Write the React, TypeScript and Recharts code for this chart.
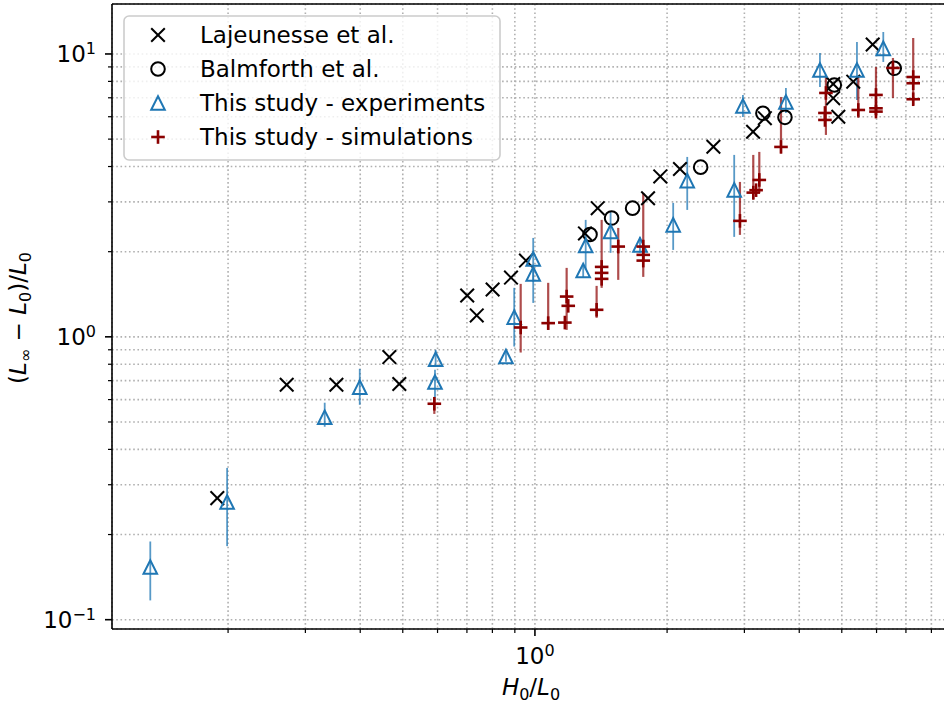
import { ScatterChart, Scatter, XAxis, YAxis, CartesianGrid, ErrorBar, ReferenceLine, Legend } from "recharts";

// axis ranges (log-log)
const X_MIN = 0.1088;
const X_MAX = 8.82;
const Y_MIN = 0.0927;
const Y_MAX = 15.02;

const xTicks = [0.2, 0.3, 0.4, 0.5, 0.6, 0.7, 0.8, 0.9, 1, 2, 3, 4, 5, 6, 7, 8];
const yTicks = [0.1, 0.2, 0.3, 0.4, 0.5, 0.6, 0.7, 0.8, 0.9, 1, 2, 3, 4, 5, 6, 7, 8, 9, 10];

// [H0/L0, (Linf-L0)/L0]
const lajeunesse: number[][] = [
  [0.189, 0.269], [0.272, 0.677], [0.353, 0.677], [0.466, 0.848], [0.491, 0.681],
  [0.701, 1.4], [0.737, 1.19], [0.801, 1.47], [0.882, 1.62], [0.954, 1.86],
  [1.3, 2.32], [1.39, 2.85], [1.81, 3.09], [1.93, 3.69], [2.14, 3.92],
  [2.55, 4.7], [3.14, 5.31], [3.34, 5.93], [4.78, 7.83], [4.78, 6.98],
  [4.91, 6.0], [5.31, 7.98], [5.88, 10.8],
];

const balmforth: number[][] = [
  [1.335, 2.3], [1.495, 2.63], [1.669, 2.85], [2.385, 3.98],
  [3.306, 6.17], [3.711, 5.97], [4.807, 7.77], [6.584, 8.9],
];

// [x, y, low, high]
const experiments: number[][] = [
  [0.133, 0.1535, 0.117, 0.189], [0.199, 0.2605, 0.182, 0.344], [0.332, 0.52, 0.481, 0.585],
  [0.399, 0.664, 0.575, 0.771], [0.594, 0.834, 0.79, 0.9], [0.592, 0.692, 0.609, 0.765],
  [0.859, 0.852, 0.816, 0.885], [0.897, 1.174, 0.924, 1.49], [0.991, 1.886, 1.318, 2.237],
  [0.991, 1.669, 1.564, 1.782], [1.288, 1.715, 1.616, 1.811], [1.305, 2.102, 1.725, 2.591],
  [1.487, 2.356, 1.981, 2.765], [1.735, 2.114, 1.981, 2.256], [2.065, 2.488, 2.029, 2.975],
  [2.223, 3.566, 2.81, 4.325], [2.844, 3.307, 2.256, 4.397], [2.977, 6.551, 5.99, 7.165],
  [3.73, 6.768, 6.186, 7.584], [4.459, 8.781, 7.645, 10.08], [5.414, 8.781, 6.878, 11.03],
  [6.216, 10.47, 9.37, 11.96],
];

// [x, y, low, high] - points without own bar have just [x, y]
const simulations: number[][] = [
  [0.59, 0.58, 0.534, 0.609], [0.928, 1.079, 0.88, 1.539], [1.072, 1.118, 1.058, 1.552],
  [1.181, 1.388, 1.058, 1.753], [1.191, 1.287], [1.17, 1.123],
  [1.382, 1.246, 1.167, 1.514], [1.419, 1.767, 1.49, 2.591], [1.419, 1.683], [1.419, 1.603],
  [1.548, 2.085, 1.59, 2.427], [1.765, 2.085, 1.629, 3.227], [1.765, 1.949], [1.765, 1.86],
  [2.931, 2.57, 2.293, 3.529], [3.143, 3.235, 3.049, 4.397], [3.244, 3.586, 3.227, 4.506],
  [3.19, 3.3], [3.635, 4.692, 4.469, 7.047],
  [4.601, 7.281, 5.173, 8.43], [4.577, 6.186], [4.577, 5.845],
  [5.452, 6.339, 5.94, 8.29], [5.982, 7.165, 5.99, 8.995], [5.982, 6.427], [5.982, 6.255],
  [6.539, 8.925, 6.99, 9.68], [7.272, 8.29, 6.6, 11.39], [7.272, 7.88], [7.272, 6.918],
];

const legendLabels = ["Lajeunesse et al.", "Balmforth et al.", "This study - experiments", "This study - simulations"];

const FONT = "'DejaVu Sans', sans-serif";
const BLUE = "#1f77b4";
const RED = "#8b0000";
const S = 6.8;

const toPoints = (rows: number[][]) =>
  rows.map((r) => {
    const lo = r.length > 2 ? r[2] : r[1];
    const hi = r.length > 3 ? r[3] : r[1];
    return { x: r[0], y: r[1], err: [r[1] - lo, hi - r[1]] };
  });

// works both on raw entries and on computed scatter points
const errOf = (d: any) => (d.payload ? d.payload.err : d.err);

function XMark({ cx, cy }: any) {
  return (
    <g stroke="#000" strokeWidth={2}>
      <line x1={cx - S} y1={cy - S} x2={cx + S} y2={cy + S} />
      <line x1={cx - S} y1={cy + S} x2={cx + S} y2={cy - S} />
    </g>
  );
}

function OMark({ cx, cy }: any) {
  return <circle cx={cx} cy={cy} r={S} fill="none" stroke="#000" strokeWidth={2} />;
}

function TriMark({ cx, cy }: any) {
  return (
    <polygon
      points={`${cx},${cy - S} ${cx - S},${cy + S} ${cx + S},${cy + S}`}
      fill="none"
      stroke={BLUE}
      strokeWidth={2}
    />
  );
}

function PlusMark({ cx, cy }: any) {
  return (
    <g stroke={RED} strokeWidth={2.6}>
      <line x1={cx - S} y1={cy} x2={cx + S} y2={cy} />
      <line x1={cx} y1={cy - S} x2={cx} y2={cy + S} />
    </g>
  );
}

const isDecade = (v: number) => Math.abs(Math.log10(v) - Math.round(Math.log10(v))) < 1e-6;
const expText = (v: number) => {
  const e = Math.round(Math.log10(v));
  return e < 0 ? `\u2212${-e}` : `${e}`;
};

function XTick({ x, y, payload }: any) {
  const major = isDecade(payload.value);
  return (
    <g>
      <line x1={x} x2={x} y1={y} y2={y + (major ? 7 : 4)} stroke="#000" strokeWidth={major ? 1.6 : 1.2} />
      {major && (
        <text x={x} y={y + 35} textAnchor="middle" fontSize={23} fontFamily={FONT} fill="#000">
          10
          <tspan dy={-8} fontSize={16}>{expText(payload.value)}</tspan>
        </text>
      )}
    </g>
  );
}

function YTick({ x, y, payload }: any) {
  const major = isDecade(payload.value);
  return (
    <g>
      <line x1={x - (major ? 7 : 4)} x2={x} y1={y} y2={y} stroke="#000" strokeWidth={major ? 1.6 : 1.2} />
      {major && (
        <text x={x - 16} y={y + 8.5} textAnchor="end" fontSize={23} fontFamily={FONT} fill="#000">
          10
          <tspan dy={-8} fontSize={16}>{expText(payload.value)}</tspan>
        </text>
      )}
    </g>
  );
}

function LegendBox() {
  const rows = [XMark, OMark, TriMark, PlusMark];
  return (
    <svg width={380} height={148}>
      <rect x={1} y={1} width={376} height={144} rx={5} fill="#fff" fillOpacity={0.8} stroke="#cccccc" strokeWidth={1.6} />
      {rows.map((M, i) => {
        const cy = 20 + i * 34;
        return (
          <g key={i}>
            <M cx={35} cy={cy} />
            <text x={77} y={cy + 8} fontSize={23} fontFamily={FONT} fill="#000">
              {legendLabels[i]}
            </text>
          </g>
        );
      })}
    </svg>
  );
}

export default function App() {
  return (
    <div style={{ position: "absolute", left: 0, top: 0, width: 944, height: 704, overflow: "hidden", background: "#fff" }}>
      <ScatterChart width={950} height={704} margin={{ top: 4, right: 0, bottom: 0, left: 0 }} style={{ fontFamily: FONT }}>
        <CartesianGrid stroke="#b0b0b0" strokeWidth={1.6} strokeDasharray="1.6 2.64" />
        <XAxis
          dataKey="x"
          type="number"
          scale="log"
          domain={[X_MIN, X_MAX]}
          allowDataOverflow
          ticks={xTicks}
          interval={0}
          height={75}
          tickSize={0}
          tickMargin={0}
          tickLine={false}
          tick={<XTick />}
          axisLine={{ stroke: "#000", strokeWidth: 1.6 }}
          label={{
            content: () => (
              <text x={531} y={695} textAnchor="middle" fontSize={23} fontFamily={FONT} fill="#000">
                <tspan fontStyle="italic">H</tspan>
                <tspan dy={5} fontSize={16}>0</tspan>
                <tspan dy={-5}>/</tspan>
                <tspan fontStyle="italic">L</tspan>
                <tspan dy={5} fontSize={16}>0</tspan>
              </text>
            ),
          }}
        />
        <YAxis
          dataKey="y"
          type="number"
          scale="log"
          domain={[Y_MIN, Y_MAX]}
          allowDataOverflow
          ticks={yTicks}
          interval={0}
          width={112}
          tickSize={0}
          tickMargin={0}
          tickLine={false}
          tick={<YTick />}
          axisLine={{ stroke: "#000", strokeWidth: 1.6 }}
          label={{
            content: () => (
              <text
                x={0}
                y={0}
                transform="translate(26,318) rotate(-90)"
                textAnchor="middle"
                fontSize={23}
                fontFamily={FONT}
                fill="#000"
              >
                (<tspan fontStyle="italic">L</tspan>
                <tspan dy={5} fontSize={16}>{"\u221e"}</tspan>
                <tspan dy={-5}>{" \u2212 "}</tspan>
                <tspan fontStyle="italic">L</tspan>
                <tspan dy={5} fontSize={16}>0</tspan>
                <tspan dy={-5}>)/</tspan>
                <tspan fontStyle="italic">L</tspan>
                <tspan dy={5} fontSize={16}>0</tspan>
              </text>
            ),
          }}
        />
        <ReferenceLine y={Y_MAX} stroke="#000" strokeWidth={1.6} ifOverflow="visible" />
        <ReferenceLine x={X_MAX} stroke="#000" strokeWidth={1.6} ifOverflow="visible" />
        <Scatter name={legendLabels[0]} data={toPoints(lajeunesse)} shape={(p: any) => <XMark cx={p.cx} cy={p.cy} />} isAnimationActive={false} />
        <Scatter name={legendLabels[1]} data={toPoints(balmforth)} shape={(p: any) => <OMark cx={p.cx} cy={p.cy} />} isAnimationActive={false} />
        <Scatter name={legendLabels[2]} data={toPoints(experiments)} shape={(p: any) => <TriMark cx={p.cx} cy={p.cy} />} isAnimationActive={false}>
          <ErrorBar dataKey={errOf} direction="y" width={0} stroke={BLUE} strokeWidth={1.8} strokeOpacity={0.75} isAnimationActive={false} />
        </Scatter>
        <Scatter name={legendLabels[3]} data={toPoints(simulations)} shape={(p: any) => <PlusMark cx={p.cx} cy={p.cy} />} isAnimationActive={false}>
          <ErrorBar dataKey={errOf} direction="y" width={0} stroke={RED} strokeWidth={2.2} strokeOpacity={0.7} isAnimationActive={false} />
        </Scatter>
        <Legend
          layout="horizontal"
          verticalAlign="middle"
          align="center"
          wrapperStyle={{ left: 123, top: 15, width: 380, height: 148 }}
          content={() => <LegendBox />}
        />
      </ScatterChart>
    </div>
  );
}
